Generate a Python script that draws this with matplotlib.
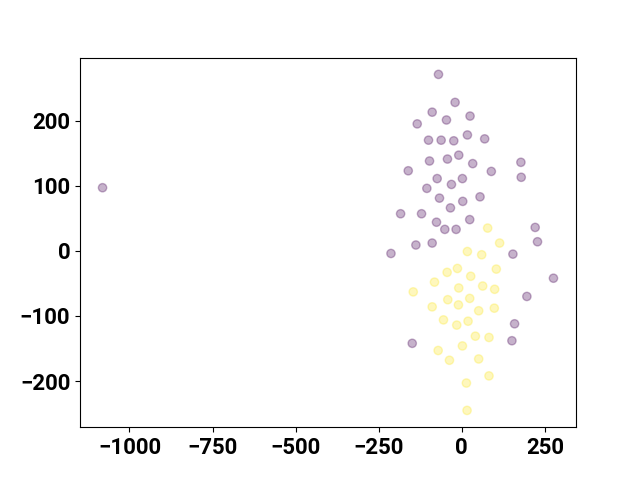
import numpy as np
import matplotlib
matplotlib.use("Agg")
import matplotlib.pyplot as plt

plt.rcParams["font.family"] = ["Roboto", "DejaVu Sans"]
plt.rcParams["font.weight"] = "bold"
plt.rcParams["font.size"] = 16

# cluster 0 (purple)
x0 = [-70, -20, -89, 25, -46, -134, -100, -62, -24, 17, 69, -97, -43, -9, 33,
      178, -161, 89, 179, -74, 2, -31, -105, -67, 3, 55, -34, -184, -121, -76,
      24, -51, -17, 221, -138, -89, 228, -213, 154,
      276, 196, 159, 151, -149, -1081]
y0 = [271, 228, 213, 207, 201, 195, 170, 170, 169, 178, 172, 138, 141, 147, 134,
      136, 123, 122, 113, 111, 111, 102, 96, 81, 76, 83, 66, 57, 57, 44,
      48, 33, 33, 36, 9, 12, 14, -4, -5,
      -42, -70, -112, -138, -142, 97]

# cluster 1 (yellow)
x1 = [78, 114, 17, 60, 104, -44, -13, 27, -82, 63, 99, -146, -9, -42, 24,
      -89, -10, 51, 98, -55, -15, 19, 41, 82, 2, -71, -37, 51, 82, 14, 16]
y1 = [35, 12, -1, -6, -28, -33, -27, -39, -48, -54, -59, -63, -57, -75, -73,
      -86, -83, -92, -88, -106, -114, -108, -131, -133, -146, -153, -168, -166,
      -192, -203, -245]

xs = np.array(x0 + x1)
ys = np.array(y0 + y1)
labels = np.array([0] * len(x0) + [1] * len(x1))

fig, ax = plt.subplots(figsize=(6.4, 4.8), dpi=100)
ax.scatter(xs, ys, c=labels, cmap="viridis", alpha=0.3)

fig.savefig("out.png")
